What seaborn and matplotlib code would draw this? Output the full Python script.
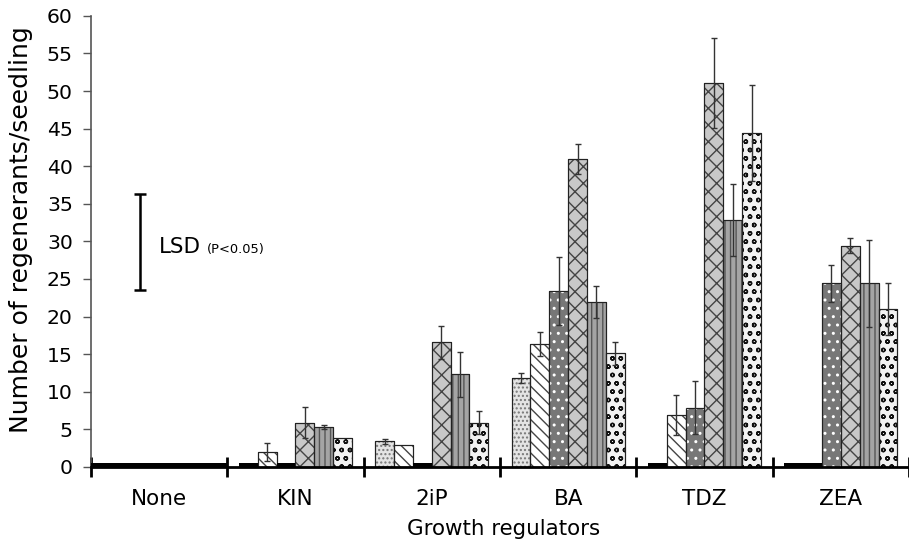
import numpy as np
import pandas as pd
import matplotlib
matplotlib.use("Agg")
import matplotlib.pyplot as plt
import seaborn as sns

# ---- data ----
regulators = ["None", "KIN", "2iP", "BA", "TDZ", "ZEA"]
treatments = ["T1", "T2", "T3", "T4", "T5", "T6"]

t1_mean = [0, 0, 3.4, 11.8, 0, 0]
t2_mean = [0, 2.0, 2.9, 16.4, 6.9, 0]
t3_mean = [0, 0, 0, 23.4, 7.9, 24.4]
t4_mean = [0, 5.9, 16.6, 41.0, 51.1, 29.4]
t5_mean = [0, 5.3, 12.3, 21.9, 32.9, 24.4]
t6_mean = [0, 3.9, 5.9, 15.1, 44.4, 21.0]

t1_err = [0, 0, 0.3, 0.7, 0, 0]
t2_err = [0, 1.2, 0, 1.6, 2.7, 0]
t3_err = [0, 0, 0, 4.5, 3.5, 2.5]
t4_err = [0, 2.1, 2.2, 2.0, 6.0, 1.0]
t5_err = [0, 0.3, 3.0, 2.1, 4.8, 5.8]
t6_err = [0, 0, 1.5, 1.5, 6.4, 3.4]

lsd_low, lsd_high = 23.5, 36.3

means = [t1_mean, t2_mean, t3_mean, t4_mean, t5_mean, t6_mean]
errs = [t1_err, t2_err, t3_err, t4_err, t5_err, t6_err]

rows = []
for t, m in zip(treatments, means):
    for r, v in zip(regulators, m):
        rows.append({"regulator": r, "treatment": t, "value": v})
df = pd.DataFrame(rows)

# ---- styles ----
face_colors = ["#e4e4e4", "#ffffff", "#777777", "#c8c8c8", "#a4a4a4", "#f2f2f2"]
hatches = ["....", "\\\\\\", "..", "xx", "|||", "oo"]
hatch_colors = ["#777777", "#444444", "#ffffff", "#444444", "#555555", "#111111"]

sns.set_style("white")
plt.rcParams["font.family"] = ["DejaVu Sans"]
plt.rcParams["text.color"] = "black"
plt.rcParams["axes.labelcolor"] = "black"
plt.rcParams["xtick.color"] = "black"
plt.rcParams["ytick.color"] = "black"
plt.rcParams["hatch.linewidth"] = 1.0

fig = plt.figure(figsize=(9.09, 5.48), dpi=100)
ax = fig.add_axes([0.100, 0.148, 0.900, 0.823])

sns.barplot(data=df, x="regulator", y="value", hue="treatment",
            order=regulators, hue_order=treatments,
            palette=face_colors, saturation=1, width=0.83,
            edgecolor="#222222", linewidth=0.8, errorbar=None,
            legend=False, ax=ax)

containers = list(ax.containers)
geoms = []
for cont in containers:
    xs = [p.get_x() for p in cont.patches]
    ws = [p.get_width() for p in cont.patches]
    geoms.append((xs, ws))

# hatch overlays, zero markers and error bars
for i, (xs, ws) in enumerate(geoms):
    centers = [x + w / 2 for x, w in zip(xs, ws)]
    ax.bar(xs, means[i], width=ws, align="edge", fill=False,
           hatch=hatches[i], edgecolor=hatch_colors[i], linewidth=0, zorder=2.5)
    ax.bar(xs, means[i], width=ws, align="edge", fill=False,
           edgecolor="#222222", linewidth=0.8, zorder=2.6)
    for j, v in enumerate(means[i]):
        if v == 0 and not all(m[j] == 0 for m in means):
            ax.bar(xs[j], 0.55, width=ws[j], align="edge", color="black",
                   linewidth=0, zorder=3)
    ce = [(c, m, e) for c, m, e in zip(centers, means[i], errs[i]) if e > 0]
    if ce:
        cx, cm, cerr = zip(*ce)
        ax.errorbar(cx, cm, yerr=cerr, fmt="none", ecolor="#333333",
                    elinewidth=1.0, capsize=2.5, capthick=1.0, zorder=4)

# groups where every treatment is zero: thick black line across the group
for j, r in enumerate(regulators):
    if all(m[j] == 0 for m in means):
        ax.bar(j - 0.5, 0.55, width=1.0, align="edge", color="black",
               linewidth=0, zorder=3)

# LSD bar
ax.errorbar([-0.14], [(lsd_low + lsd_high) / 2], yerr=[(lsd_high - lsd_low) / 2],
            fmt="none", ecolor="black", elinewidth=1.8, capsize=4, capthick=1.8,
            zorder=4)
ax.text(-0.0, 29.3, "LSD", fontsize=15.4, va="center", ha="left")
ax.text(0.35, 28.9, "(P<0.05)", fontsize=9.4, va="center", ha="left")

ax.set_xlim(-0.5, 5.44)
ax.set_ylim(0, 60)
ax.set_yticks(np.arange(0, 61, 5))

ax.set_xticks(np.arange(-0.5, 6, 1.0))
ax.set_xticklabels([])
ax.set_xticks(np.arange(len(regulators)), minor=True)
ax.set_xticklabels(regulators, minor=True)
ax.tick_params(axis="x", which="major", direction="inout", length=14,
               width=2, color="black", bottom=True)
ax.tick_params(axis="x", which="minor", length=0, pad=16, labelsize=15.5,
               bottom=True, labelcolor="black")
ax.tick_params(axis="y", direction="out", length=6, width=1, color="#555555",
               labelsize=14.7, pad=7, left=True, labelcolor="black")

for s in ["top", "right"]:
    ax.spines[s].set_visible(False)
ax.spines["bottom"].set_linewidth(2)
ax.spines["bottom"].set_color("black")
ax.spines["left"].set_linewidth(1.2)
ax.spines["left"].set_color("#555555")
ax.spines["bottom"].set_zorder(5)

ax.set_xlabel("Growth regulators", fontsize=15.4)
ax.xaxis.set_label_coords(0.504, -0.115)
ax.set_ylabel("Number of regenerants/seedling", fontsize=18)
ax.yaxis.set_label_coords(-0.071, 0.525)
ax.grid(False)

fig.savefig("out.png", dpi=100)
